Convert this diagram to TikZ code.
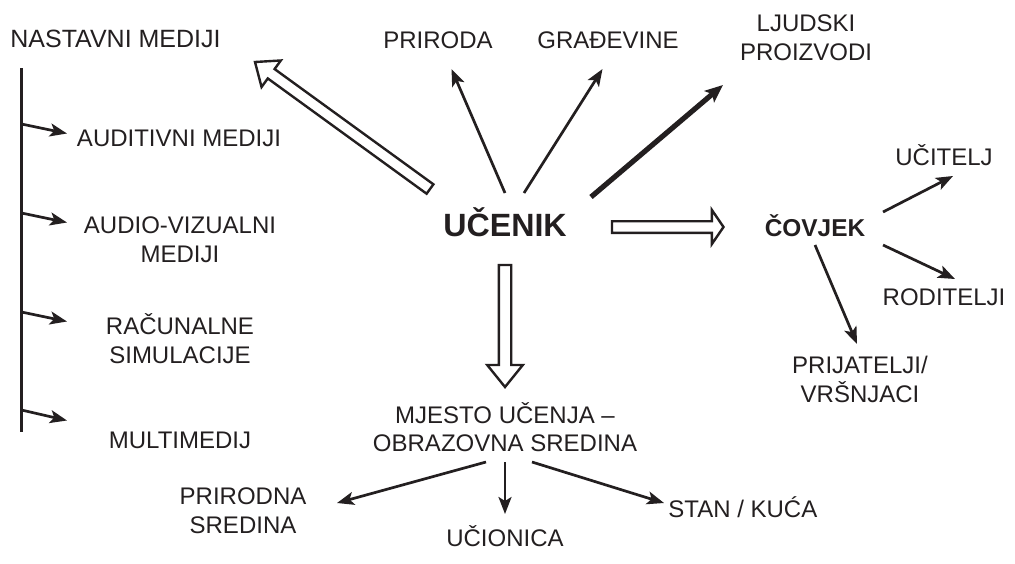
\documentclass[tikz,border=0pt]{standalone}
\usepackage{fontspec}
\setmainfont{Liberation Sans}
\usetikzlibrary{arrows.meta,calc}
\definecolor{ink}{RGB}{35,31,32}

% outlined block arrow: #1 tail, #2 tip, #3 shaft half-width, #4 head half-width, #5 head length
\newcommand\hollowarrow[5]{%
  \path ($(#2)!#5!(#1)$) coordinate (hh);
  \draw[hollow] ($(#1)!#3!90:(#2)$) -- ($(hh)!#3!-90:(#1)$) -- ($(hh)!#4!-90:(#1)$)
    -- (#2) -- ($(hh)!#4!90:(#1)$) -- ($(hh)!#3!90:(#1)$) -- ($(#1)!#3!-90:(#2)$) -- cycle;}

\begin{document}
\begin{tikzpicture}[x=0.5pt,y=-0.5pt,
  every node/.style={inner sep=0pt, text=ink, align=center, anchor=base},
  lbl/.style={font=\fontsize{12}{14.35}\selectfont},
  arr/.style={draw=ink, line width=1.35pt, -{Stealth[length=8.5pt,width=6.5pt,inset=2pt]}},
  thickarr/.style={draw=ink, line width=2.6pt, -{Stealth[length=9pt,width=7.5pt,inset=2pt]}},
  hollow/.style={draw=ink, fill=white, line width=1.2pt, line join=miter},
  stem/.style={draw=ink, line width=1.4pt}]
\useasboundingbox (0,0) rectangle (1015,563);

% labels (multi-line labels sit on the baseline of their last line)
\node[anchor=base west, font=\fontsize{12.5}{14.35}\selectfont] (nast) at (10,47) {NASTAVNI MEDIJI};
\node[lbl] (prir) at (438,48) {PRIRODA};
\node[lbl] (grad) at (608,48) {GRAĐEVINE};
\node[lbl] (ljud) at (806,60) {LJUDSKI\\PROIZVODI};
\node[lbl] (ucit) at (944,165) {UČITELJ};
\node[font=\bfseries\fontsize{16.1}{18}\selectfont] (ucenik) at (505,236.7) {UČENIK};
\node[font=\bfseries\fontsize{12.2}{14}\selectfont] (covjek) at (815,236) {ČOVJEK};
\node[lbl] (rod) at (944,305) {RODITELJI};
\node[lbl] (prij) at (860,402) {PRIJATELJI/\\VRŠNJACI};
\node[lbl] (aud) at (179,146) {AUDITIVNI MEDIJI};
\node[lbl] (av) at (180,262) {AUDIO-VIZUALNI\\MEDIJI};
\node[lbl] (rac) at (180,363) {RAČUNALNE\\SIMULACIJE};
\node[lbl] (multi) at (180,448) {MULTIMEDIJ};
\node[lbl] (mjesto) at (505,451.7) {MJESTO UČENJA –\\OBRAZOVNA SREDINA};
\node[lbl] (pris) at (243,533) {PRIRODNA\\SREDINA};
\node[lbl] (ucion) at (505,546) {UČIONICA};
\node[lbl, anchor=base west] (stan) at (668,517) {STAN / KUĆA};

% connector end points
\coordinate (u1) at (505,193);   \coordinate (t1) at (451.5,69);
\coordinate (u2) at (524,193);   \coordinate (t2) at (602.5,69);
\coordinate (u3) at (591,197);   \coordinate (t3) at (723,85);
\coordinate (c1) at (883,212);   \coordinate (d1) at (953,176);
\coordinate (c2) at (883,245);   \coordinate (d2) at (955,279);
\coordinate (c3) at (815,245);   \coordinate (d3) at (857,344);
\coordinate (m1) at (486,462);   \coordinate (e1) at (337,503);
\coordinate (m2) at (505,462);   \coordinate (e2) at (505,514);
\coordinate (m3) at (532,462);   \coordinate (e3) at (664,503);
\coordinate (vtop) at (21.5,68); \coordinate (vbot) at (21.5,432);
\coordinate (b1) at (21.5,124);  \coordinate (f1) at (67,133.5);
\coordinate (b2) at (21.5,213);  \coordinate (f2) at (67,222.5);
\coordinate (b3) at (21.5,312);  \coordinate (f3) at (67,321.5);
\coordinate (b4) at (21.5,410);  \coordinate (f4) at (67,420.5);
\coordinate (h1a) at (430,189);  \coordinate (h1b) at (255,62);
\coordinate (h2a) at (612,227);  \coordinate (h2b) at (723.5,227);
\coordinate (h3a) at (505,265);  \coordinate (h3b) at (505,387);

% arrows out of UČENIK
\draw[arr] (u1) -- (t1);
\draw[arr] (u2) -- (t2);
\draw[thickarr] (u3) -- (t3);
\hollowarrow{h1a}{h1b}{2.9pt}{8.2pt}{10pt}
\hollowarrow{h2a}{h2b}{2.9pt}{8.5pt}{5.8pt}
\hollowarrow{h3a}{h3b}{3.1pt}{8.9pt}{11pt}

% ČOVJEK branches
\draw[arr] (c1) -- (d1);
\draw[arr] (c2) -- (d2);
\draw[arr] (c3) -- (d3);

% place of learning branches
\draw[arr] (m1) -- (e1);
\draw[arr] (m2) -- (e2);
\draw[arr] (m3) -- (e3);

% media list
\draw[stem] (vtop) -- (vbot);
\draw[arr] (b1) -- (f1);
\draw[arr] (b2) -- (f2);
\draw[arr] (b3) -- (f3);
\draw[arr] (b4) -- (f4);
\end{tikzpicture}
\end{document}
